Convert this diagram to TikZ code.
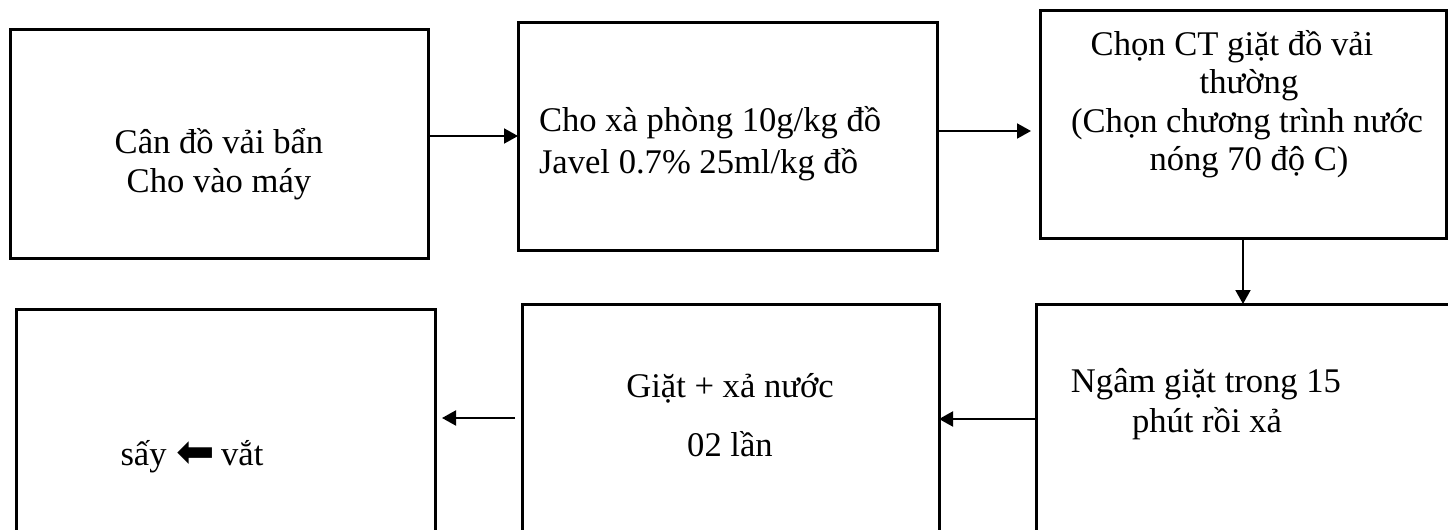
\documentclass[tikz,border=0pt]{standalone}
\usepackage{fontspec}
\setmainfont{Liberation Serif}
\newfontfamily\symfont{DejaVu Sans}
\usetikzlibrary{arrows.meta}
\begin{document}
\begin{tikzpicture}[x=0.5pt,y=-0.5pt,
  box/.style={draw, line width=1.5pt, rectangle, inner sep=0pt, outer sep=0pt},
  txt/.style={inner sep=0pt, outer sep=0pt, font=\fontsize{17.3pt}{20pt}\selectfont, anchor=base},
  arr/.style={line width=1pt, -{Triangle[length=7pt,width=7.5pt]}}]
\useasboundingbox (0,0) rectangle (1448,530);
% boxes
\node[box, minimum width=209pt, minimum height=114.5pt] (b1) at (219,143.5) {};
\node[box, minimum width=209.5pt, minimum height=114pt] (b2) at (727.5,136) {};
\node[box, minimum width=203pt, minimum height=114pt] (b3) at (1243,124) {};
\node[box, minimum width=222pt, minimum height=128pt] (b4) at (1258,432) {};
\node[box, minimum width=208.5pt, minimum height=128pt] (b5) at (730.5,432) {};
\node[box, minimum width=209.5pt, minimum height=125.5pt] (b6) at (225.5,434.5) {};
% texts
\node[txt] (t1a) at (219,153) {Cân đồ vải bẩn};
\node[txt] (t1b) at (219,192) {Cho vào máy};
\node[txt, anchor=base west] (t2a) at (539,131) {Cho xà phòng 10g/kg đồ};
\node[txt, anchor=base west] (t2b) at (539,173) {Javel 0.7\% 25ml/kg đồ};
\node[txt] (t3a) at (1232,55) {Chọn CT giặt đồ vải};
\node[txt] (t3b) at (1249,93) {thường};
\node[txt] (t3c) at (1247,132) {(Chọn chương trình nước};
\node[txt] (t3d) at (1249,170) {nóng 70 độ C)};
\node[txt] (t4a) at (1206,392) {Ngâm giặt trong 15};
\node[txt] (t4b) at (1207,432) {phút rồi xả};
\node[txt] (t5a) at (730,397) {Giặt + xả nước};
\node[txt] (t5b) at (730,456) {02 lần};
\node[txt] (t6) at (192,465) {sấy\hspace{5pt}\raisebox{-1pt}{\symfont\fontsize{23pt}{26pt}\selectfont ⬅}\hspace{3pt}vắt};
% connectors
\draw[arr] (b1.east |- b2.west) -- (b2.west);
\draw[arr, shorten >=4.5pt] ([yshift=2.5pt]b2.east) -- ([yshift=2.5pt]b2.east -| b3.west);
\draw[arr] (b3.south) -- (b3.south |- b4.north);
\draw[arr] ([yshift=6.5pt]b4.west) -- ([yshift=6.5pt]b4.west -| b5.east);
\draw[arr, shorten <=3.5pt, shorten >=3.5pt] ([yshift=7pt]b5.west) -- ([yshift=7pt]b5.west -| b6.east);
\end{tikzpicture}
\end{document}
